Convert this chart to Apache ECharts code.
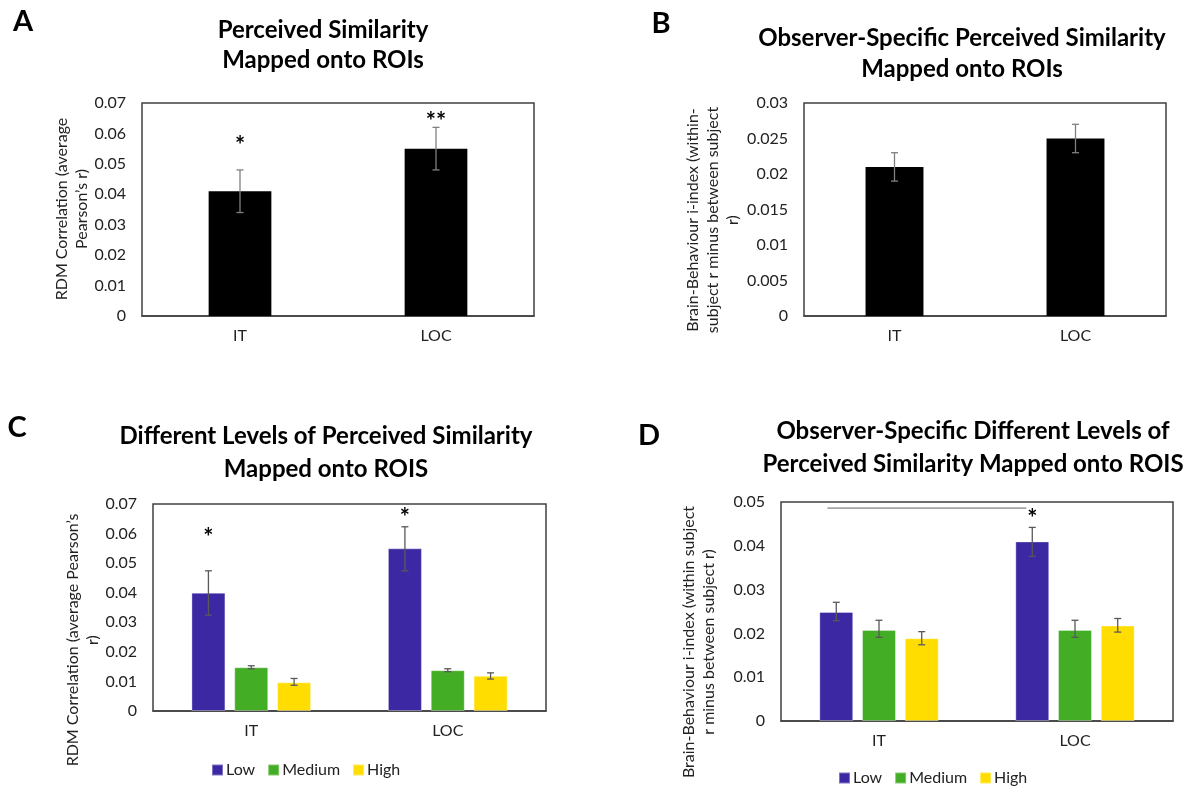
<!DOCTYPE html>
<html>
<head>
<meta charset="utf-8">
<script src="https://cdn.jsdelivr.net/npm/echarts@6/dist/echarts.min.js"></script>
<style>
html,body{margin:0;padding:0;background:#fff;}
#chart{width:1189px;height:786px;}
</style>
</head>
<body>
<div id="chart"></div>
<script>
// ---------- data ----------
const categories = ['IT', 'LOC'];
const levels = ['Low', 'Medium', 'High'];

// Panel A
const valuesA = [0.041, 0.055];
const errLowA = [0.034, 0.048];
const errHighA = [0.048, 0.062];
const starsA = ['*', '**'];
const starPosA = [0.0575, 0.0654];
const yTicksA = ['0', '0.01', '0.02', '0.03', '0.04', '0.05', '0.06', '0.07'];

// Panel B
const valuesB = [0.021, 0.025];
const errLowB = [0.019, 0.023];
const errHighB = [0.023, 0.027];
const yTicksB = ['0', '0.005', '0.01', '0.015', '0.02', '0.025', '0.03'];

// Panel C
const lowC = [0.040, 0.055];
const mediumC = [0.0148, 0.0138];
const highC = [0.0097, 0.0119];
const errLowC_low = [0.0324, 0.0474];
const errHighC_low = [0.0474, 0.0623];
const errLowC_medium = [0.0143, 0.0133];
const errHighC_medium = [0.0153, 0.0143];
const errLowC_high = [0.0087, 0.0108];
const errHighC_high = [0.0110, 0.0129];
const starsC = ['*', '*'];
const starPosC = [0.0600, 0.0668];
const yTicksC = ['0', '0.01', '0.02', '0.03', '0.04', '0.05', '0.06', '0.07'];

// Panel D
const lowD = [0.0249, 0.041];
const mediumD = [0.0208, 0.0208];
const highD = [0.0189, 0.0218];
const errLowD_low = [0.0229, 0.0376];
const errHighD_low = [0.0271, 0.0442];
const errLowD_medium = [0.0191, 0.0191];
const errHighD_medium = [0.0230, 0.0230];
const errLowD_high = [0.0174, 0.0203];
const errHighD_high = [0.0204, 0.0234];
const starsD = ['', '*'];
const starPosD = [null, 0.0471];
const bracketD = [0.0486];
const yTicksD = ['0', '0.01', '0.02', '0.03', '0.04', '0.05'];

const colors = { Low: '#3c28a3', Medium: '#43ad25', High: '#ffdd00' };
const FONT = 'Lato';
const TEXT = '#222';

// ---------- helpers ----------
function barOffset(band, k, n, frac, gapFrac) {
  const w = band * frac, g = w * gapFrac;
  const total = n * w + (n - 1) * g;
  return -total / 2 + w / 2 + k * (w + g);
}

function errSeries(grid, k, n, frac, gapFrac, lows, highs, color, stars, starPos) {
  const data = categories.map((c, i) => [i, lows[i], highs[i]]);
  return {
    type: 'custom',
    xAxisIndex: grid, yAxisIndex: grid,
    z: 5,
    silent: true,
    encode: { x: 0, y: [1, 2] },
    data: data,
    renderItem: function (params, api) {
      const ci = api.value(0);
      const band = api.size([1, 0])[0];
      const off = barOffset(band, k, n, frac, gapFrac);
      const pLo = api.coord([ci, api.value(1)]);
      const pHi = api.coord([ci, api.value(2)]);
      const x = pLo[0] + off;
      const cap = 3.5;
      const st = { stroke: color, lineWidth: 1.3 };
      const children = [
        { type: 'line', shape: { x1: x, y1: pLo[1], x2: x, y2: pHi[1] }, style: st },
        { type: 'line', shape: { x1: x - cap, y1: pLo[1], x2: x + cap, y2: pLo[1] }, style: st },
        { type: 'line', shape: { x1: x - cap, y1: pHi[1], x2: x + cap, y2: pHi[1] }, style: st }
      ];
      if (stars && stars[params.dataIndex]) {
        const ps = api.coord([ci, starPos[params.dataIndex]]);
        children.push({
          type: 'text',
          style: {
            x: x, y: ps[1] + 5, text: stars[params.dataIndex],
            align: 'center', verticalAlign: 'middle',
            font: 'bold 24px ' + FONT, fill: '#000'
          }
        });
      }
      return { type: 'group', children: children };
    }
  };
}

function xAxisCfg(grid) {
  return {
    type: 'category', gridIndex: grid, data: categories,
    axisTick: { show: false },
    axisLine: { lineStyle: { color: '#404040', width: 1.5 } },
    axisLabel: { fontFamily: FONT, fontSize: 16, color: TEXT, margin: 12 }
  };
}
function yAxisCfg(grid, max, interval, ticks) {
  return {
    type: 'value', gridIndex: grid, min: 0, max: max, interval: interval,
    axisLine: { show: false }, axisTick: { show: false },
    splitLine: { show: false },
    axisLabel: {
      fontFamily: FONT, fontSize: 16, color: TEXT, margin: 16,
      formatter: function (v, i) { return ticks[i]; }
    }
  };
}
function gridCfg(left, top, width, height) {
  return { left: left, top: top, width: width, height: height, show: true,
    borderColor: '#404040', borderWidth: 1.5, backgroundColor: '#fff', containLabel: false };
}
function groupBars(grid, name, data) {
  return {
    type: 'bar', name: name, xAxisIndex: grid, yAxisIndex: grid, data: data,
    barWidth: '17.3%', barGap: '26%',
    itemStyle: { color: colors[name], borderColor: 'rgba(255,255,255,0.35)', borderWidth: 1 }
  };
}

const titleFont = 'bold 24px ' + FONT;
function txt(x, y, text, font, lh, rot) {
  return {
    type: 'text', x: x, y: y, rotation: rot || 0,
    style: { text: text, font: font, fill: rot ? TEXT : '#000', align: 'center',
      verticalAlign: rot ? 'middle' : 'top', lineHeight: lh }
  };
}
const axisTitleFont = '16px ' + FONT;
const legendText = { fontFamily: FONT, fontSize: 16, color: TEXT, padding: [0, 0, 0, -2] };

const option = {
  animation: false,
  backgroundColor: '#fff',
  grid: [
    gridCfg(142, 103, 392, 213),
    gridCfg(804, 103, 362, 213),
    gridCfg(153, 504, 393, 207),
    gridCfg(781, 502, 392, 219)
  ],
  xAxis: [xAxisCfg(0), xAxisCfg(1), xAxisCfg(2), xAxisCfg(3)],
  yAxis: [
    yAxisCfg(0, 0.07, 0.01, yTicksA),
    yAxisCfg(1, 0.03, 0.005, yTicksB),
    yAxisCfg(2, 0.07, 0.01, yTicksC),
    yAxisCfg(3, 0.05, 0.01, yTicksD)
  ],
  legend: [
    { data: levels, left: 206, top: 757, icon: 'rect', itemWidth: 11, itemHeight: 11, itemGap: 12,
      textStyle: legendText, selectedMode: false },
    { data: levels, left: 833, top: 765, icon: 'rect', itemWidth: 11, itemHeight: 11, itemGap: 12,
      textStyle: legendText, selectedMode: false }
  ],
  graphic: [
    txt(23, 5, 'A', 'bold 29px ' + FONT, 34),
    txt(661, 7, 'B', 'bold 29px ' + FONT, 34),
    txt(17, 411, 'C', 'bold 29px ' + FONT, 34),
    txt(649, 419, 'D', 'bold 29px ' + FONT, 34),
    txt(323, 15, 'Perceived Similarity\nMapped onto ROIs', titleFont, 30),
    txt(962, 23, 'Observer-Specific Perceived Similarity\nMapped onto ROIs', titleFont, 31),
    txt(326, 420, 'Different Levels of Perceived Similarity\nMapped onto ROIS', titleFont, 33),
    txt(973, 415, 'Observer-Specific Different Levels of\nPerceived Similarity Mapped onto ROIS', titleFont, 33),
    txt(72, 209, 'RDM Correlation (average\nPearson\u2019s r)', axisTitleFont, 20, Math.PI / 2),
    txt(713, 220, 'Brain-Behaviour i-index (within-\nsubject r minus between subject\nr)', axisTitleFont, 20, Math.PI / 2),
    txt(83, 640, 'RDM Correlation (average Pearson\u2019s\nr)', axisTitleFont, 20, Math.PI / 2),
    txt(699, 642, 'Brain-Behaviour i-index (within subject\nr minus between subject r)', axisTitleFont, 20, Math.PI / 2)
  ],
  series: [
    { type: 'bar', name: 'A', xAxisIndex: 0, yAxisIndex: 0, data: valuesA, barWidth: '32%', itemStyle: { color: '#000' } },
    errSeries(0, 0, 1, 0.32, 0, errLowA, errHighA, '#808080', starsA, starPosA),
    { type: 'bar', name: 'B', xAxisIndex: 1, yAxisIndex: 1, data: valuesB, barWidth: '32%', itemStyle: { color: '#000' } },
    errSeries(1, 0, 1, 0.32, 0, errLowB, errHighB, '#808080', null, null),

    groupBars(2, 'Low', lowC), groupBars(2, 'Medium', mediumC), groupBars(2, 'High', highC),
    errSeries(2, 0, 3, 0.173, 0.26, errLowC_low, errHighC_low, '#595959', starsC, starPosC),
    errSeries(2, 1, 3, 0.173, 0.26, errLowC_medium, errHighC_medium, '#595959', null, null),
    errSeries(2, 2, 3, 0.173, 0.26, errLowC_high, errHighC_high, '#595959', null, null),

    groupBars(3, 'Low', lowD), groupBars(3, 'Medium', mediumD), groupBars(3, 'High', highD),
    errSeries(3, 0, 3, 0.173, 0.26, errLowD_low, errHighD_low, '#595959', starsD, starPosD),
    errSeries(3, 1, 3, 0.173, 0.26, errLowD_medium, errHighD_medium, '#595959', null, null),
    errSeries(3, 2, 3, 0.173, 0.26, errLowD_high, errHighD_high, '#595959', null, null),
    {
      type: 'custom', xAxisIndex: 3, yAxisIndex: 3, silent: true, z: 5,
      data: bracketD.map(v => [0, v, 1]),
      encode: { x: 0, y: 1 },
      renderItem: function (params, api) {
        const band = api.size([1, 0])[0];
        const off = barOffset(band, 0, 3, 0.173, 0.26);
        const p0 = api.coord([api.value(0), api.value(1)]);
        const p1 = api.coord([api.value(2), api.value(1)]);
        return {
          type: 'line',
          shape: { x1: p0[0] + off - 0.045 * band, y1: p0[1], x2: p1[0] + off - 0.03 * band, y2: p1[1] },
          style: { stroke: '#a6a6a6', lineWidth: 1.6 }
        };
      }
    }
  ]
};

const chart = echarts.init(document.getElementById('chart'), null, { renderer: 'canvas' });
chart.setOption(option);
</script>
</body>
</html>
